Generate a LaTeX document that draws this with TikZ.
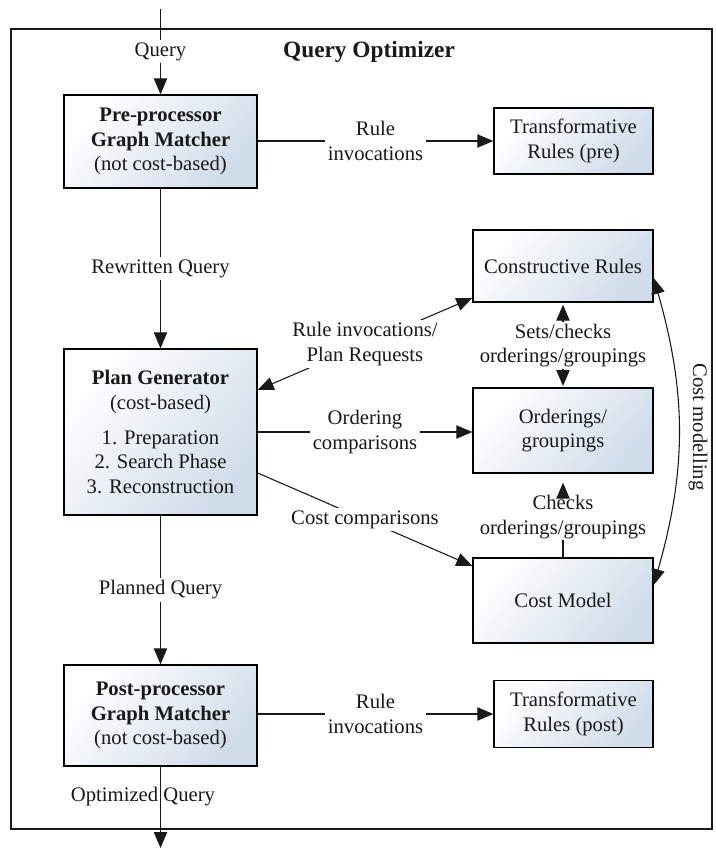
\documentclass[tikz,border=0pt]{standalone}
\usepackage{fontspec}
\setmainfont{Liberation Serif}
\usetikzlibrary{arrows.meta}
\definecolor{boxblue}{RGB}{208,220,234}
\definecolor{ink}{RGB}{25,25,25}
\begin{document}
\begin{tikzpicture}[x=0.75pt,y=-0.75pt,
  font=\fontsize{15.5}{18.5}\selectfont,
  every node/.style={text=ink},
  stagebox/.style={draw=black,line width=1pt,top color=white,bottom color=boxblue,
                   shading angle=50,align=center,inner sep=0pt},
  conn/.style={draw=ink,line width=0.8pt},
  tip/.style={-{Triangle[length=12pt,width=10pt]}},
  dtip/.style={{Triangle[length=12pt,width=10pt]}-{Triangle[length=12pt,width=10pt]}},
  lbl/.style={fill=white,align=center,inner sep=2pt},
  freelbl/.style={align=center,inner sep=1pt},
]
\useasboundingbox (0,0) rectangle (715,850);

% optimizer frame
\draw[draw=ink,line width=0.8pt] (11,29) rectangle (712,829);
\node[font=\fontsize{17.5}{20}\selectfont\bfseries] (title) at (369,52) {Query Optimizer};

% stages
\node[stagebox,minimum width=144.75pt,minimum height=69.75pt] (pre) at (160.5,141.5)
  {\textbf{Pre-processor}\\\textbf{Graph Matcher}\\(not cost-based)};
\node[stagebox,minimum width=144.75pt,minimum height=124.5pt] (plan) at (160.5,432)
  {\textbf{Plan Generator}\\(cost-based)\\[7.5pt]1. Preparation\\2. Search Phase\\3. Reconstruction};
\node[stagebox,minimum width=144.75pt,minimum height=75.75pt] (post) at (160.5,715.5)
  {\textbf{Post-processor}\\\textbf{Graph Matcher}\\(not cost-based)};

% rule sets and models
\node[stagebox,minimum width=119.25pt,minimum height=49.5pt] (transpre) at (573.5,141)
  {Transformative\\Rules (pre)};
\node[stagebox,minimum width=135pt,minimum height=54pt] (cons) at (563,266)
  {Constructive Rules};
\node[stagebox,minimum width=135pt,minimum height=63.75pt] (ord) at (563,430.5)
  {Orderings/\\groupings};
\node[stagebox,minimum width=135pt,minimum height=63.75pt] (cost) at (563,600.5)
  {Cost Model};
\node[stagebox,minimum width=119.25pt,minimum height=50.25pt] (transpost) at (573.5,714)
  {Transformative\\Rules (post)};

% main query flow
\coordinate (in) at (160.5,9);
\coordinate (out) at (160.5,848);
\draw[conn,tip] (in) -- (pre.north) node[lbl,pos=0.5] {Query};
\draw[conn,tip] (pre.south) -- (plan.north) node[lbl,midway] {Rewritten Query};
\draw[conn,tip] (plan.south) -- (post.north) node[lbl,midway] {Planned Query};
\draw[conn,tip] (post.south) -- (out);
\node (optq) at (143,797) {Optimized Query};

% rule invocations
\draw[conn,tip] (pre.east |- transpre) -- (transpre.west)
  node[lbl,midway] {Rule\\invocations};
\draw[conn,tip] (post.east |- transpost) -- (transpost.west)
  node[lbl,midway] {Rule\\invocations};

% plan generator requests
\draw[conn,dtip] ([yshift=31.5pt]plan.east) -- ([yshift=-24pt]cons.west)
  node[lbl,midway] {Rule invocations/\\Plan Requests};
\draw[conn,tip] (plan.east) -- (plan.east -| ord.west)
  node[lbl,midway] {Ordering\\comparisons};
\draw[conn,tip] ([yshift=-30.75pt]plan.east) -- ([yshift=25.9pt]cost.west)
  node[lbl,midway] {Cost comparisons};

% interactions on the right
\node[freelbl] (setlbl) at (563,345.5) {Sets/checks\\orderings/groupings};
\draw[conn,tip,shorten >=1.5pt] (setlbl.north) -- (cons.south);
\draw[conn,tip,shorten >=1pt] (setlbl.south) -- (ord.north);
\node[freelbl] (chklbl) at (563,517) {Checks\\orderings/groupings};
\draw[conn,tip,shorten >=6.75pt] (chklbl.north) -- (ord.south);
\draw[conn] (cost.north) -- (chklbl.south);
\draw[conn,dtip] ([yshift=-9pt]cons.east) to[bend left=16] ([yshift=11.6pt]cost.east);
\node[rotate=-90] (cmodel) at (698,427) {Cost modelling};

\end{tikzpicture}
\end{document}
